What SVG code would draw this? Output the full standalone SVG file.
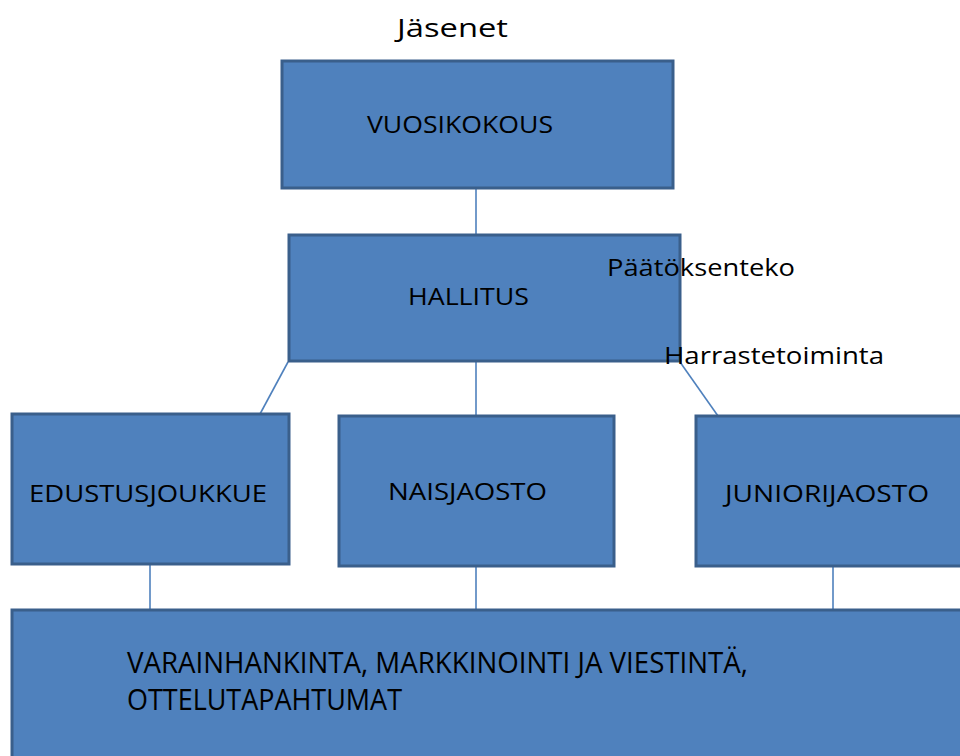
<svg xmlns="http://www.w3.org/2000/svg" width="960" height="756" viewBox="0 0 960 756">
  <style>
    .box { fill: #4F81BD; stroke: #3A5F8B; stroke-width: 3; }
    .link { stroke: #4F81BD; stroke-width: 1.6; fill: none; }
    text { font-family: "Open Sans", "Liberation Sans", sans-serif; fill: #000; }
    .lbl { font-size: 24px; }
    .wide { font-size: 29px; }
    .note { font-size: 26px; }
  </style>
  <rect width="960" height="756" fill="#fff"/>

  <g id="connectors">
    <line class="link" x1="476" y1="189" x2="476" y2="235"/>
    <line class="link" x1="288" y1="362" x2="260" y2="414"/>
    <line class="link" x1="476" y1="362" x2="476" y2="416"/>
    <line class="link" x1="680" y1="362" x2="718" y2="416"/>
    <line class="link" x1="150" y1="565" x2="150" y2="610"/>
    <line class="link" x1="476" y1="567" x2="476" y2="610"/>
    <line class="link" x1="833" y1="567" x2="833" y2="610"/>
  </g>

  <g id="title">
    <text class="note" x="397" y="37" font-size="30" textLength="111" lengthAdjust="spacingAndGlyphs">Jäsenet</text>
  </g>

  <g id="vuosikokous">
    <rect class="box" x="282" y="61" width="391" height="127"/>
    <text class="lbl" x="367" y="133" textLength="186" lengthAdjust="spacingAndGlyphs">VUOSIKOKOUS</text>
  </g>

  <g id="hallitus">
    <rect class="box" x="289" y="235" width="391" height="126"/>
    <text class="lbl" x="408" y="305" textLength="121" lengthAdjust="spacingAndGlyphs">HALLITUS</text>
  </g>

  <g id="paatoksenteko">
    <text class="lbl" x="607" y="276" textLength="188" lengthAdjust="spacingAndGlyphs">Päätöksenteko</text>
  </g>

  <g id="harrastetoiminta">
    <text class="lbl" x="664" y="364" textLength="220" lengthAdjust="spacingAndGlyphs">Harrastetoiminta</text>
  </g>

  <g id="edustusjoukkue">
    <rect class="box" x="12" y="414" width="277" height="150"/>
    <text class="lbl" x="29" y="502" textLength="238" lengthAdjust="spacingAndGlyphs">EDUSTUSJOUKKUE</text>
  </g>

  <g id="naisjaosto">
    <rect class="box" x="339" y="416" width="275" height="150"/>
    <text class="lbl" x="388" y="500" textLength="159" lengthAdjust="spacingAndGlyphs">NAISJAOSTO</text>
  </g>

  <g id="juniorijaosto">
    <rect class="box" x="696" y="416" width="270" height="150"/>
    <text class="lbl" x="725" y="502" textLength="204" lengthAdjust="spacingAndGlyphs">JUNIORIJAOSTO</text>
  </g>

  <g id="tukitoiminnot">
    <rect class="box" x="12" y="610" width="960" height="160"/>
    <text class="wide" x="127" y="673" textLength="621" lengthAdjust="spacingAndGlyphs">VARAINHANKINTA, MARKKINOINTI JA VIESTINTÄ,</text>
    <text class="wide" x="127" y="710" textLength="275" lengthAdjust="spacingAndGlyphs">OTTELUTAPAHTUMAT</text>
  </g>
</svg>
